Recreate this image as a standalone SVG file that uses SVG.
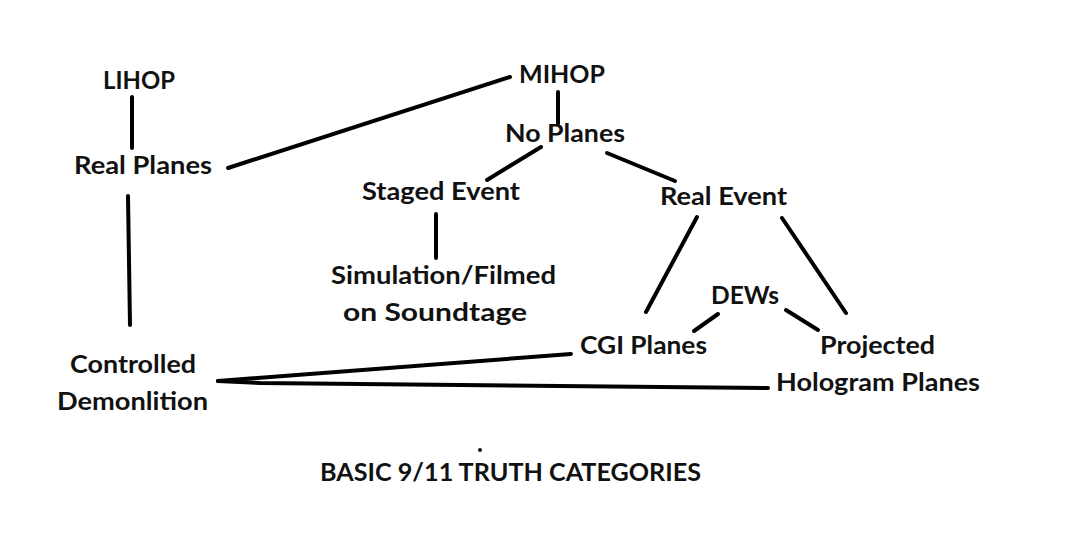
<svg xmlns="http://www.w3.org/2000/svg" width="1080" height="536" viewBox="0 0 1080 536">
<style>
text{font-family:Lato,"Open Sans","Liberation Sans",sans-serif;font-weight:bold;font-size:24px;fill:#111;}
.c line,.c polyline{stroke:#000;stroke-width:4;stroke-linecap:round;fill:none;}
</style>
<rect width="1080" height="536" fill="#fff"/>
<g class="c" id="connectors">
<line x1="132" y1="97" x2="132" y2="148"/>
<line x1="228" y1="168" x2="510" y2="77"/>
<line x1="558" y1="92" x2="558" y2="124"/>
<line x1="541" y1="147" x2="487" y2="180"/>
<line x1="607" y1="153" x2="675" y2="181"/>
<line x1="436" y1="214" x2="436" y2="258"/>
<line x1="697" y1="217" x2="646" y2="312"/>
<line x1="782" y1="218" x2="846" y2="313"/>
<line x1="718" y1="314" x2="694" y2="331"/>
<line x1="786" y1="310" x2="818" y2="330"/>
<line x1="128" y1="196" x2="130" y2="325"/>
<line x1="218" y1="381" x2="571" y2="354"/>
<polyline points="218,381 260,383 460,385 768,388"/>
</g>
<g id="n-lihop"><text x="103" y="89" textLength="72" lengthAdjust="spacingAndGlyphs">LIHOP</text></g>
<g id="n-realplanes"><text x="74" y="174" textLength="138" lengthAdjust="spacingAndGlyphs">Real Planes</text></g>
<g id="n-mihop"><text x="519" y="83" textLength="86" lengthAdjust="spacingAndGlyphs">MIHOP</text></g>
<g id="n-noplanes"><text x="505" y="142" textLength="120" lengthAdjust="spacingAndGlyphs">No Planes</text></g>
<g id="n-staged"><text x="362" y="200" textLength="158" lengthAdjust="spacingAndGlyphs">Staged Event</text></g>
<g id="n-simulation"><text x="331" y="284" textLength="225" lengthAdjust="spacingAndGlyphs">Simulation/Filmed</text><text x="343" y="321" textLength="184" lengthAdjust="spacingAndGlyphs">on Soundtage</text></g>
<g id="n-realevent"><text x="660" y="205" textLength="127" lengthAdjust="spacingAndGlyphs">Real Event</text></g>
<g id="n-dews"><text x="711" y="304" textLength="68" lengthAdjust="spacingAndGlyphs">DEWs</text></g>
<g id="n-cgi"><text x="580" y="354" textLength="127" lengthAdjust="spacingAndGlyphs">CGI Planes</text></g>
<g id="n-projected"><text x="820" y="354" textLength="115" lengthAdjust="spacingAndGlyphs">Projected</text><text x="776" y="391" textLength="204" lengthAdjust="spacingAndGlyphs">Hologram Planes</text></g>
<g id="n-controlled"><text x="70" y="373" textLength="126" lengthAdjust="spacingAndGlyphs">Controlled</text><text x="57" y="410" textLength="151" lengthAdjust="spacingAndGlyphs">Demonlition</text></g>
<circle cx="480" cy="450" r="2" fill="#111"/>
<g id="title"><text x="320" y="481" textLength="381" lengthAdjust="spacingAndGlyphs">BASIC 9/11 TRUTH CATEGORIES</text></g>
</svg>
